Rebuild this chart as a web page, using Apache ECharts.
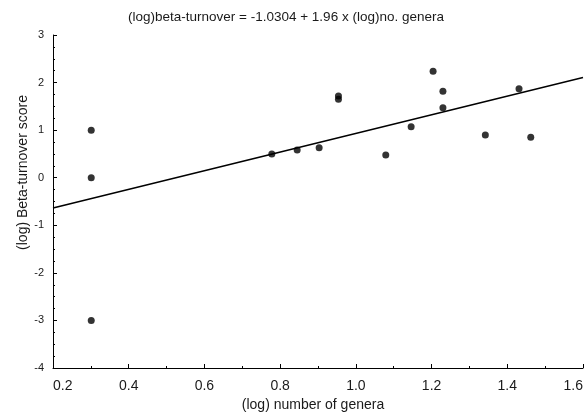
<!DOCTYPE html>
<html>
<head>
<meta charset="utf-8">
<script src="https://cdn.jsdelivr.net/npm/echarts@6/dist/echarts.min.js"></script>
<style>
  html, body { margin: 0; padding: 0; background: #fff; }
  #chart { width: 587px; height: 412px; }
</style>
</head>
<body>
<div id="chart"></div>
<script>
// (log) number of genera per sample
const generaLog = [0.301, 0.301, 0.301, 0.778, 0.845, 0.903, 0.954, 0.954, 1.079, 1.146, 1.204, 1.230, 1.230, 1.342, 1.431, 1.462]
// (log) beta-turnover score
const turnoverLog = [1.0, 0.0, -3.0, 0.50, 0.58, 0.63, 1.72, 1.65, 0.475, 1.07, 2.24, 1.82, 1.47, 0.90, 1.87, 0.85]

// fitted line from the title
const intercept = -1.0304
const slope = 1.96
const xRange = [0.2, 1.6]
const yRange = [-4, 3]

const points = generaLog.map((x, i) => [x, turnoverLog[i]])
const fitLine = xRange.map((x) => [x, intercept + slope * x])

const textColor = '#1a1a1a'
const font = 'Liberation Sans, Arial, sans-serif'

const chart = echarts.init(document.getElementById('chart'), null, { renderer: 'canvas' })
chart.setOption({
  animation: false,
  backgroundColor: '#fff',
  title: {
    text: '(log)beta-turnover = -1.0304 + 1.96 x (log)no. genera',
    left: 128,
    top: 10,
    padding: 0,
    textStyle: { fontSize: 13.5, fontWeight: 'normal', color: textColor, fontFamily: font },
  },
  grid: { left: 53, right: 4, top: 35, bottom: 44, containLabel: false, outerBoundsMode: 'none' },
  xAxis: {
    type: 'value',
    min: xRange[0],
    max: xRange[1],
    interval: 0.2,
    name: '(log) number of genera',
    nameLocation: 'middle',
    nameGap: 30,
    nameMoveOverlap: false,
    nameTextStyle: { fontSize: 14, color: textColor, fontFamily: font, padding: [0, 10, 0, 0] },
    axisLine: { onZero: false, lineStyle: { color: '#000', width: 1 } },
    axisTick: { inside: true, length: 4, lineStyle: { color: '#000' } },
    minorTick: { show: true, splitNumber: 2, length: 2, lineStyle: { color: '#000' } },
    axisLabel: {
      fontSize: 14,
      color: textColor,
      fontFamily: font,
      margin: 11,
      alignMinLabel: 'left',
      alignMaxLabel: 'right',
      formatter: (v) => v.toFixed(1),
    },
    splitLine: { show: false },
  },
  yAxis: {
    type: 'value',
    min: yRange[0],
    max: yRange[1],
    interval: 1,
    name: '(log) Beta-turnover score',
    nameLocation: 'middle',
    nameGap: 23,
    nameMoveOverlap: false,
    nameTextStyle: { fontSize: 14, color: textColor, fontFamily: font, padding: [0, 0, 0, 58] },
    axisLine: { onZero: false, lineStyle: { color: '#000', width: 1 } },
    axisTick: { inside: true, length: 4, lineStyle: { color: '#000' } },
    minorTick: { show: true, splitNumber: 4, length: 2, lineStyle: { color: '#000' } },
    axisLabel: { fontSize: 11, color: textColor, fontFamily: font, margin: 9 },
    splitLine: { show: false },
  },
  series: [
    {
      type: 'line',
      data: fitLine,
      showSymbol: false,
      lineStyle: { color: '#000', width: 1.5 },
      silent: true,
    },
    {
      type: 'scatter',
      data: points,
      symbol: 'circle',
      symbolSize: 7,
      itemStyle: { color: '#000' },
    },
  ],
})
</script>
</body>
</html>
